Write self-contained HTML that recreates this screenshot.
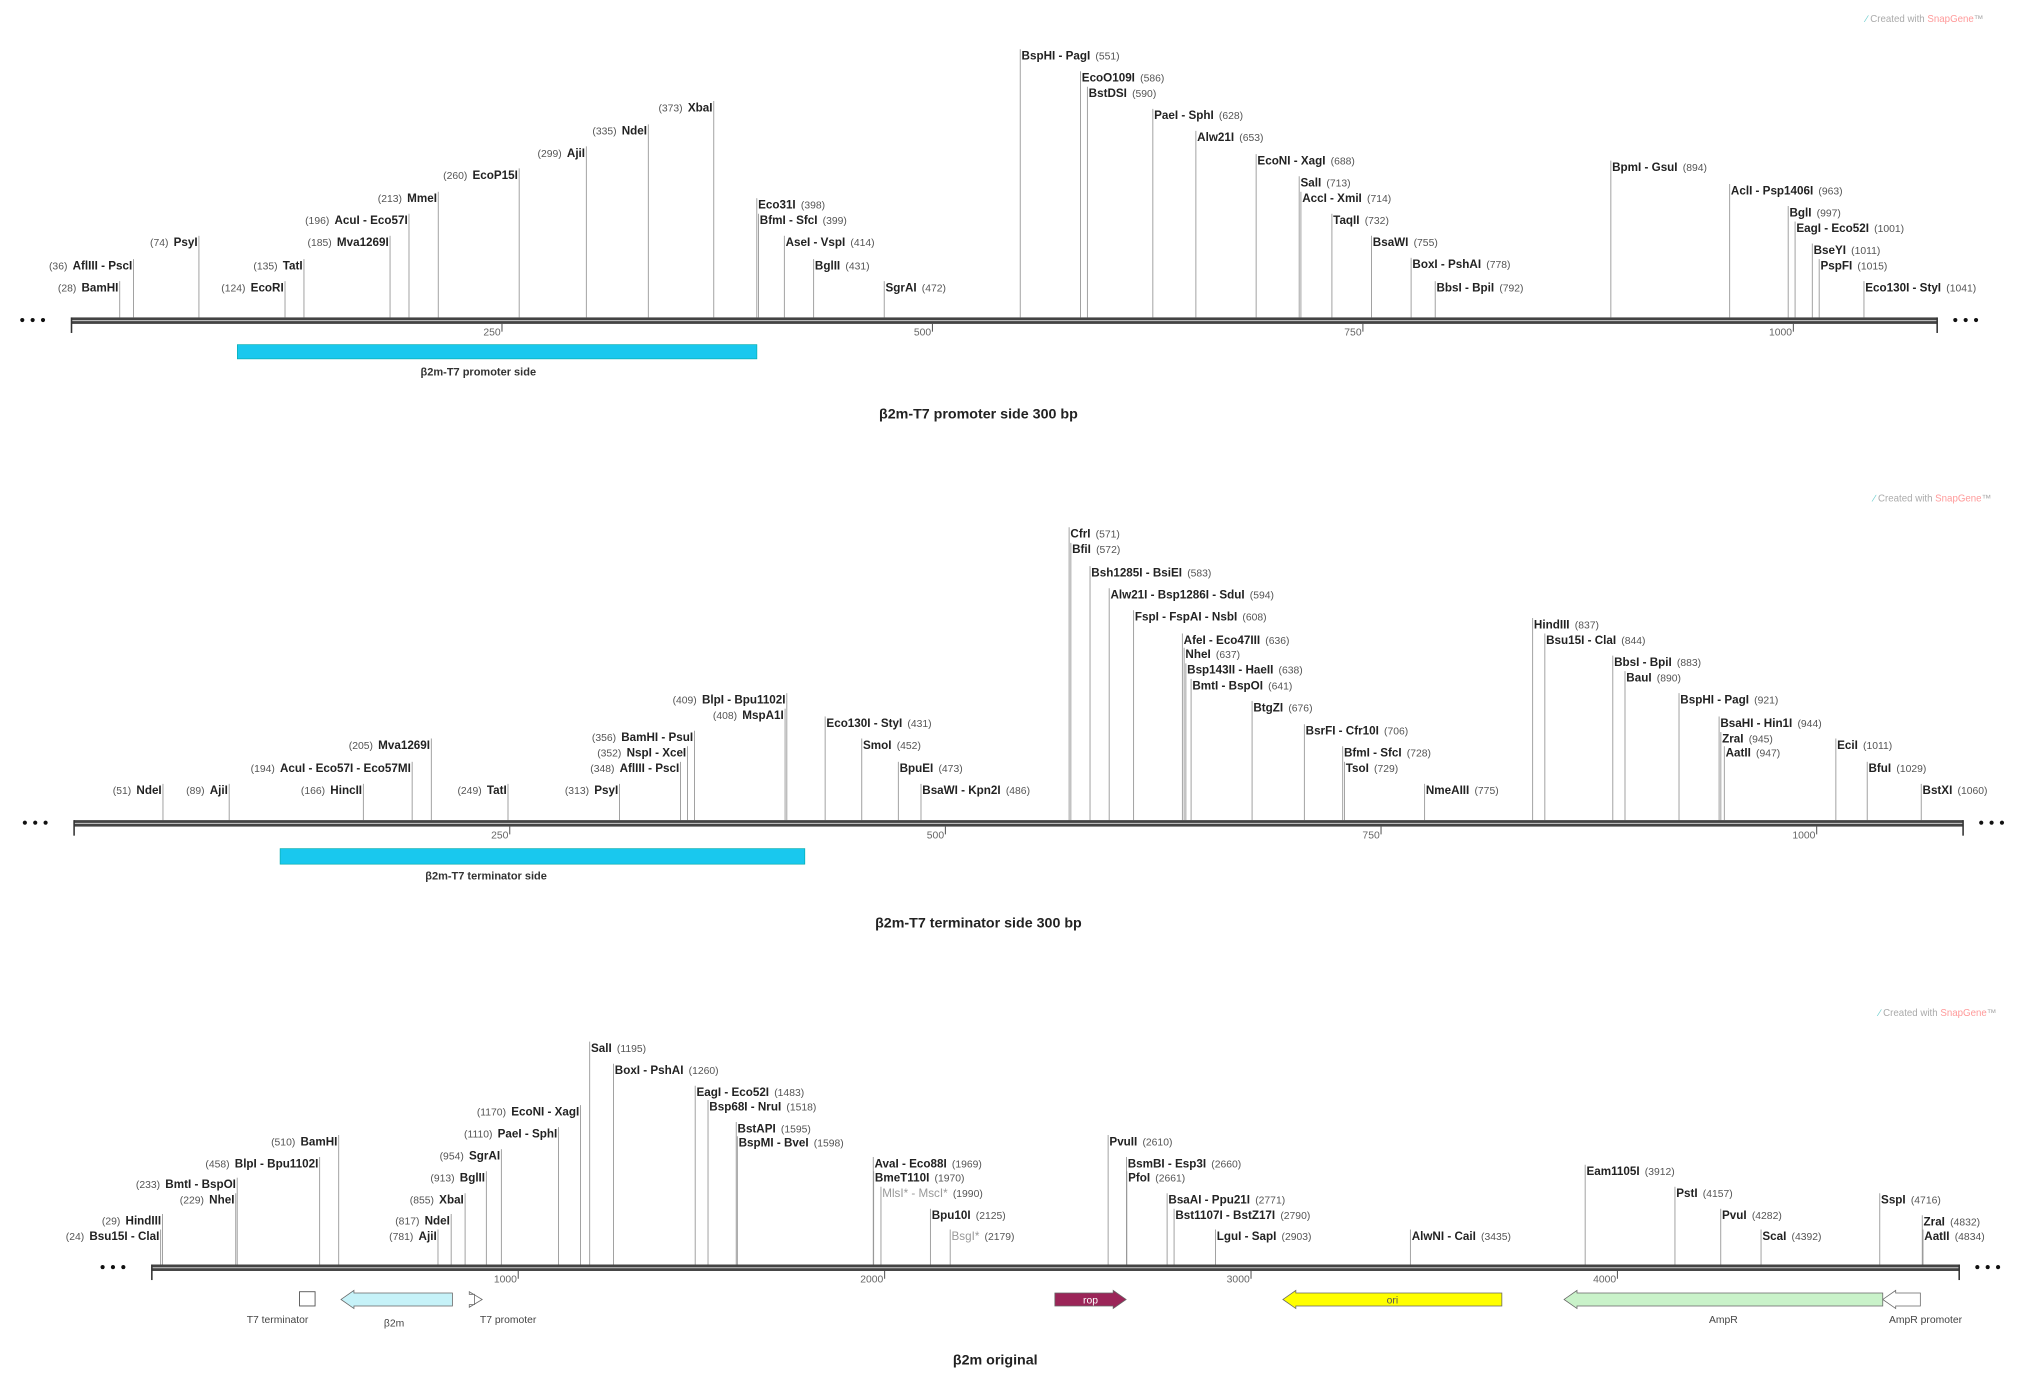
<!DOCTYPE html>
<html><head><meta charset="utf-8"><style>
html,body{margin:0;padding:0;background:#fff}
svg{display:block}
text{font-family:"Liberation Sans",sans-serif}
.n{font-weight:bold;font-size:9px;fill:#222}
.p{font-size:8px;fill:#555}
</style></head><body>
<svg id="c" width="2032" height="1385" viewBox="0 0 1568 1069"></svg>
<script>
// Track 1 data
const t1Names=["BamHI","AflIII - PscI","PsyI","EcoRI","TatI","Mva1269I","AcuI - Eco57I","MmeI","EcoP15I","AjiI","NdeI","XbaI","Eco31I","BfmI - SfcI","AseI - VspI","BglII","SgrAI","BspHI - PagI","EcoO109I","BstDSI","PaeI - SphI","Alw21I","EcoNI - XagI","SalI","AccI - XmiI","TaqII","BsaWI","BoxI - PshAI","BbsI - BpiI","BpmI - GsuI","AclI - Psp1406I","BglI","EagI - Eco52I","BseYI","PspFI","Eco130I - StyI"];
const t1Pos=[28,36,74,124,135,185,196,213,260,299,335,373,398,399,414,431,472,551,586,590,628,653,688,713,714,732,755,778,792,894,963,997,1001,1011,1015,1041];
const t1Row=[225,208,190,225,208,190,173,156,138,121,104,86,161,173,190,208,225,46,63,75,92,109,127,144,156,173,190,207,225,132,150,167,179,196,208,225];
const t1Side="LLLLLLLLLLLLRRRRRRRRRRRRRRRRRRRRRRRR";
// Track 2 data
const t2Names=["NdeI","AjiI","HincII","AcuI - Eco57I - Eco57MI","Mva1269I","TatI","PsyI","AflIII - PscI","NspI - XceI","BamHI - PsuI","MspA1I","BlpI - Bpu1102I","Eco130I - StyI","SmoI","BpuEI","BsaWI - Kpn2I","CfrI","BfiI","Bsh1285I - BsiEI","Alw21I - Bsp1286I - SduI","FspI - FspAI - NsbI","AfeI - Eco47III","NheI","Bsp143II - HaeII","BmtI - BspOI","BtgZI","BsrFI - Cfr10I","BfmI - SfcI","TsoI","NmeAIII","HindIII","Bsu15I - ClaI","BbsI - BpiI","BauI","BspHI - PagI","BsaHI - Hin1I","ZraI","AatII","EciI","BfuI","BstXI"];
const t2Pos=[51,89,166,194,205,249,313,348,352,356,408,409,431,452,473,486,571,572,583,594,608,636,637,638,641,676,706,728,729,775,837,844,883,890,921,944,945,947,1011,1029,1060];
const t2Row=[613,613,613,596,578,613,613,596,584,572,555,543,561,578,596,613,415,427,445,462,479,497,508,520,532,549,567,584,596,613,485,497,514,526,543,561,573,584,578,596,613];
const t2Side="LLLLLLLLLLLLRRRRRRRRRRRRRRRRRRRRRRRRRRRRR";
// Track 3 data
const t3Names=["Bsu15I - ClaI","HindIII","NheI","BmtI - BspOI","BlpI - Bpu1102I","BamHI","AjiI","NdeI","XbaI","BglII","SgrAI","PaeI - SphI","EcoNI - XagI","SalI","BoxI - PshAI","EagI - Eco52I","Bsp68I - NruI","BstAPI","BspMI - BveI","AvaI - Eco88I","BmeT110I","MlsI* - MscI*","Bpu10I","BsgI*","PvuII","BsmBI - Esp3I","PfoI","BsaAI - Ppu21I","Bst1107I - BstZ17I","LguI - SapI","AlwNI - CaiI","Eam1105I","PstI","PvuI","ScaI","SspI","ZraI","AatII"];
const t3Pos=[24,29,229,233,458,510,781,817,855,913,954,1110,1170,1195,1260,1483,1518,1595,1598,1969,1970,1990,2125,2179,2610,2660,2661,2771,2790,2903,3435,3912,4157,4282,4392,4716,4832,4834];
const t3Row=[957,945,929,917,901,884,957,945,929,912,895,878,861,812,829,846,857,874,885,901,912,924,941,957,884,901,912,929,941,957,957,907,924,941,957,929,946,957];
const t3Side="LLLLLLLLLLLLLRRRRRRRRRRRRRRRRRRRRRRRRR";
const t3Gray=["MlsI* - MscI*","BsgI*"];
const ticks1=[250,500,750,1000], ticks3=[1000,2000,3000,4000];

const NS="http://www.w3.org/2000/svg", svg=document.getElementById('c');
function mk(t,a,p){const e=document.createElementNS(NS,t);for(const k in a)e.setAttribute(k,a[k]);(p||svg).appendChild(e);return e;}

function track(id,x0,x1,bpScale,y,names,pos,rows,side,ticks,gray){
  const g=mk('g',{});
  
  
  const X=b=>x0+b*bpScale;
  for(let i=0;i<names.length;i++){
    const x=X(pos[i]), ly=rows[i];
    const s=mk('g',{},g);
    
    
    mk('line',{x1:x,y1:ly-8,x2:x,y2:y-2,stroke:'#999','stroke-width':0.7},s);
    const isG=gray&&gray.includes(names[i]);
    const t=mk('text',{x:side[i]=='L'?x-1:x+1,y:ly,'text-anchor':side[i]=='L'?'end':'start'},s);
    const a=mk('tspan',{class:'p'},t), b=mk('tspan',{class:'n'},t);
    if(side[i]=='L'){a.textContent='('+pos[i]+')\u2002';b.textContent=names[i];t.appendChild(b);}
    else{t.insertBefore(b,a);b.textContent=names[i];a.textContent='\u2002('+pos[i]+')';}
    if(isG){b.setAttribute('style','fill:#999;font-weight:normal');}
  }
  const ax=mk('g',{},g);
  
  
  mk('rect',{x:x0,y:y-2,width:x1-x0,height:5,fill:'#444'},ax);
  mk('line',{x1:x0,y1:y+0.5,x2:x1,y2:y+0.5,stroke:'#ccc','stroke-width':0.8},ax);
  mk('line',{x1:x0,y1:y-2,x2:x0,y2:y+10,stroke:'#333','stroke-width':1.2},ax);
  mk('line',{x1:x1,y1:y-2,x2:x1,y2:y+10,stroke:'#333','stroke-width':1.2},ax);
  ticks.forEach(v=>{const x=X(v);mk('line',{x1:x,y1:y+3,x2:x,y2:y+9,stroke:'#555','stroke-width':0.8},ax);
    const t=mk('text',{x:x-1,y:y+12,'text-anchor':'end','font-size':8,fill:'#666'},ax);t.textContent=v;});
  [x0-38,x0-30,x0-22].forEach(cx=>mk('circle',{cx:cx,cy:y,r:1.6,fill:'#111'},ax));
  [x1+14,x1+22,x1+30].forEach(cx=>mk('circle',{cx:cx,cy:y,r:1.6,fill:'#111'},ax));
  return X;
}
function txt(x,y,s,attrs,name){const t=mk('text',Object.assign({x:x,y:y,'text-anchor':'middle'},attrs));t.textContent=s;return t;}
function logo(x,y){const t=mk('text',{x:x,y:y,'font-size':7.5,fill:'#aaa'});t.innerHTML='<tspan fill="#6cc">\u2215</tspan> Created with <tspan fill="#f99">SnapGene</tspan>\u2122';}

track('track-promoter-side',55,1495,1.329,247,t1Names,t1Pos,t1Row,t1Side,ticks1);
track('track-terminator-side',57,1515,1.345,635,t2Names,t2Pos,t2Row,t2Side,ticks1);
track('track-b2m-original',117,1512,0.2828,978,t3Names,t3Pos,t3Row,t3Side,ticks3,t3Gray);
logo(1440,17);logo(1446,387);logo(1450,784);

let r=mk('rect',{x:183,y:266,width:401,height:11,fill:'#19c8ee',stroke:'#0aa',"stroke-width":0.5});
txt(369,290,'β2m-T7 promoter side',{'font-size':8.5,'font-weight':'bold',fill:'#333'},'promoter-side-label');
txt(755,323,'β2m-T7 promoter side 300 bp',{'font-size':11,'font-weight':'bold',fill:'#222'},'title-promoter-side');
r=mk('rect',{x:216,y:655,width:405,height:12,fill:'#19c8ee',stroke:'#0aa',"stroke-width":0.5});
txt(375,679,'β2m-T7 terminator side',{'font-size':8.5,'font-weight':'bold',fill:'#333'},'terminator-side-label');
txt(755,716,'β2m-T7 terminator side 300 bp',{'font-size':11,'font-weight':'bold',fill:'#222'},'title-terminator-side');
txt(768,1053,'β2m original',{'font-size':11,'font-weight':'bold',fill:'#222'},'title-b2m-original');

function arrow(name,xs,xe,y,h,fill,label,lx,ly,inner){
  const dir=xe>xs?1:-1, hd=10*dir, p=[[xs,y-h/2],[xe-hd,y-h/2],[xe-hd,y-h/2-2],[xe,y],[xe-hd,y+h/2+2],[xe-hd,y+h/2],[xs,y+h/2]];
  const e=mk('polygon',{points:p.map(a=>a.join(',')).join(' '),fill:fill,stroke:'#666','stroke-width':0.6});
  
  if(label)txt(lx,ly,label,{'font-size':8,fill:'#444'},name+'-label');
  if(inner)txt((xs+xe)/2,y+3,inner,{'font-size':8,fill:inner=='rop'?'#fff':'#555'},name+'-text');
}
r=mk('rect',{x:231,y:997,width:12,height:11,fill:'#fff',stroke:'#555','stroke-width':0.7});
txt(214,1021,'T7 terminator',{'font-size':8,fill:'#444'},'t7-terminator-label');
arrow('b2m-feature',349,263,1003,10,'#c6f2f8','β2m',304,1024);
arrow('t7-promoter-feature',366,372,1003,8,'#fff','T7 promoter',392,1021);
arrow('rop-feature',814,869,1003,10,'#9b2558',null,0,0,'rop');
arrow('ori-feature',1159,990,1003,10,'#ffff00',null,0,0,'ori');
arrow('ampr-feature',1453,1207,1003,10,'#c9f2c9','AmpR',1330,1021);
arrow('ampr-promoter-feature',1482,1453,1003,10,'#fff','AmpR promoter',1486,1021);
</script>
</body></html>
